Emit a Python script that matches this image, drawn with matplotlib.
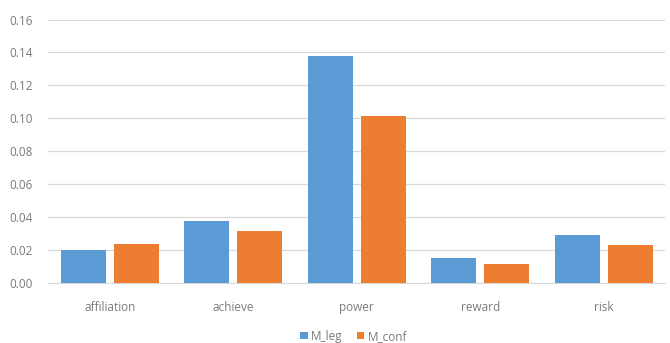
import numpy as np
import matplotlib.pyplot as plt

# motive scores per category
categories = ['affiliation', 'achieve', 'power', 'reward', 'risk']
m_leg = [0.020, 0.0376, 0.1376, 0.015, 0.029]
m_conf = [0.0235, 0.0315, 0.1014, 0.0115, 0.023]

plt.rcParams['font.family'] = ['Open Sans', 'DejaVu Sans']

fig = plt.figure(figsize=(6.7, 3.43), dpi=100)
ax = fig.add_axes([0.072, 0.175, 0.921, 0.768])

x = np.arange(len(categories))
w = 0.365
ax.bar(x - 0.215, m_leg, w, color='#5B9BD5', label='M_leg', zorder=3)
ax.bar(x + 0.215, m_conf, w, color='#ED7D31', label='M_conf', zorder=3)

ax.set_xlim(-0.5, len(categories) - 0.5)
ax.set_ylim(0, 0.16)
ax.set_yticks(np.arange(0, 0.161, 0.02))
ax.set_yticklabels(['%.2f' % v for v in np.arange(0, 0.161, 0.02)])
ax.set_xticks(x)
ax.set_xticklabels(categories)
ax.grid(axis='y', color='#D9D9D9', linewidth=0.9, zorder=0)
ax.tick_params(length=0, colors='#7A7A7A', labelsize=8.5)
ax.tick_params(axis='x', pad=13)
ax.tick_params(axis='y', pad=11)
for s in ['top', 'right', 'left']:
    ax.spines[s].set_visible(False)
ax.spines['bottom'].set_color('#D9D9D9')

fig.legend(loc='center', bbox_to_anchor=(0.528, 0.02), ncol=2, frameon=False,
           fontsize=8.5, labelcolor='#7A7A7A', handlelength=0.6, handleheight=0.6,
           handletextpad=0.3, columnspacing=1.2)

fig.savefig('out.png', dpi=100)
